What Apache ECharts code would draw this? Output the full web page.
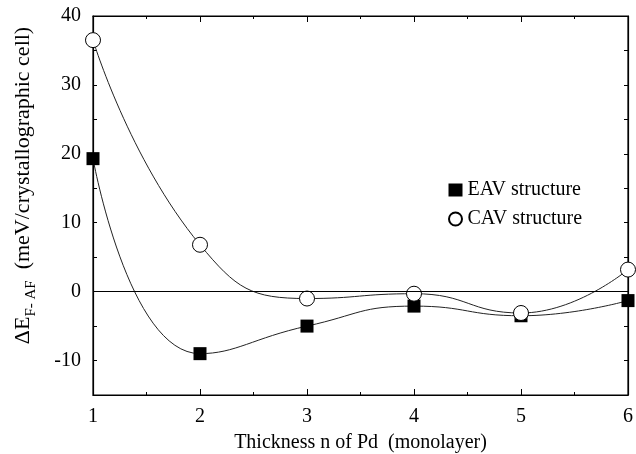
<!DOCTYPE html>
<html><head><meta charset="utf-8">
<script src="https://cdn.jsdelivr.net/npm/echarts@6/dist/echarts.min.js"></script>
<style>html,body{margin:0;padding:0;background:#fff}#c{width:636px;height:454px}</style>
</head><body><div id="c"></div>
<script>
const thickness = [1, 2, 3, 4, 5, 6];
const eavValues = [19.3, -9.0, -5.0, -2.1, -3.5, -1.3];
const cavValues = [36.5, 6.8, -1.0, -0.3, -3.1, 3.2];
const xTicks = [1, 2, 3, 4, 5, 6];
const yTicks = [-10, 0, 10, 20, 30, 40];
const xMin = 1, xMax = 6, yMin = -15, yMax = 40;

const font = 'Liberation Serif';
const chart = echarts.init(document.getElementById('c'));
const pair = (xs, ys) => xs.map((x, i) => [x, ys[i]]);
function baseAxis() {
  return {
    axisLine: { show: true, onZero: false, lineStyle: { color: '#000', width: 1.2 } },
    axisTick: { show: true, inside: true, length: 6, lineStyle: { color: '#000' } },
    minorTick: { show: true, splitNumber: 2, length: 3, lineStyle: { color: '#000' } },
    splitLine: { show: false }
  };
}
chart.setOption({
  animation: false,
  grid: { left: 93, right: 8, top: 16, bottom: 59, containLabel: false, outerBoundsMode: 'none',
    show: true, borderColor: '#000', borderWidth: 1.2 },
  legend: {
    left: 443, top: 175, orient: 'vertical', itemGap: 9, itemWidth: 14, itemHeight: 13,
    textStyle: { fontFamily: font, fontSize: 20, color: '#000' },
    data: [{ name: 'EAV structure', icon: 'rect' }, { name: 'CAV structure', icon: 'circle' }]
  },
  xAxis: [
    Object.assign(baseAxis(), {
      type: 'value', min: xMin, max: xMax, interval: 1, position: 'bottom',
      axisLabel: { fontFamily: font, fontSize: 20, color: '#000', margin: 12,
        formatter: v => (xTicks.indexOf(v) >= 0 ? String(v) : '') },
      name: 'Thickness n of Pd  (monolayer)', nameLocation: 'middle', nameGap: 38,
      nameTextStyle: { fontFamily: font, fontSize: 20, color: '#000' }
    }),
    Object.assign(baseAxis(), {
      type: 'value', min: xMin, max: xMax, interval: 1, position: 'top', axisLabel: { show: false }
    })
  ],
  yAxis: [
    Object.assign(baseAxis(), {
      type: 'value', min: yMin, max: yMax, interval: 5, position: 'left',
      minorTick: { show: false },
      axisTick: { show: true, inside: true, length: 4, lineStyle: { color: '#000' } },
      axisLabel: { fontFamily: font, fontSize: 20, color: '#000', margin: 12,
        formatter: v => (yTicks.indexOf(v) >= 0 ? String(v) : '') },
      name: '{a|ΔE}{s|F- AF}{a|  (meV/crystallographic cell)}', nameLocation: 'middle', nameGap: 54,
      nameRotate: 90,
      nameTextStyle: { fontFamily: font, fontSize: 22, color: '#000', padding: [0, 0, 0, 40],
        rich: {
          a: { fontFamily: font, fontSize: 22, color: '#000', lineHeight: 27, verticalAlign: 'top' },
          s: { fontFamily: font, fontSize: 15, color: '#000', lineHeight: 27, verticalAlign: 'bottom', padding: [10, 0, 0, 0] }
        } }
    }),
    Object.assign(baseAxis(), {
      type: 'value', min: yMin, max: yMax, interval: 5, position: 'right',
      minorTick: { show: false },
      axisTick: { show: true, inside: true, length: 4, lineStyle: { color: '#000' } },
      axisLabel: { show: false }
    })
  ],
  series: [
    {
      name: 'EAV structure', type: 'line', smooth: 0.5, clip: false,
      data: pair(thickness, eavValues),
      symbol: 'rect', symbolSize: 13,
      itemStyle: { color: '#000' },
      lineStyle: { color: '#222', width: 1 },
      markLine: { silent: true, symbol: 'none', label: { show: false },
        lineStyle: { color: '#000', width: 1, type: 'solid' }, data: [{ yAxis: 0 }] },
      z: 3
    },
    {
      name: 'CAV structure', type: 'line', smooth: 0.5, clip: false,
      data: pair(thickness, cavValues),
      symbol: 'circle', symbolSize: 15,
      itemStyle: { color: '#fff', borderColor: '#000', borderWidth: 1 },
      lineStyle: { color: '#222', width: 1 },
      z: 4
    }
  ]
});
</script></body></html>
